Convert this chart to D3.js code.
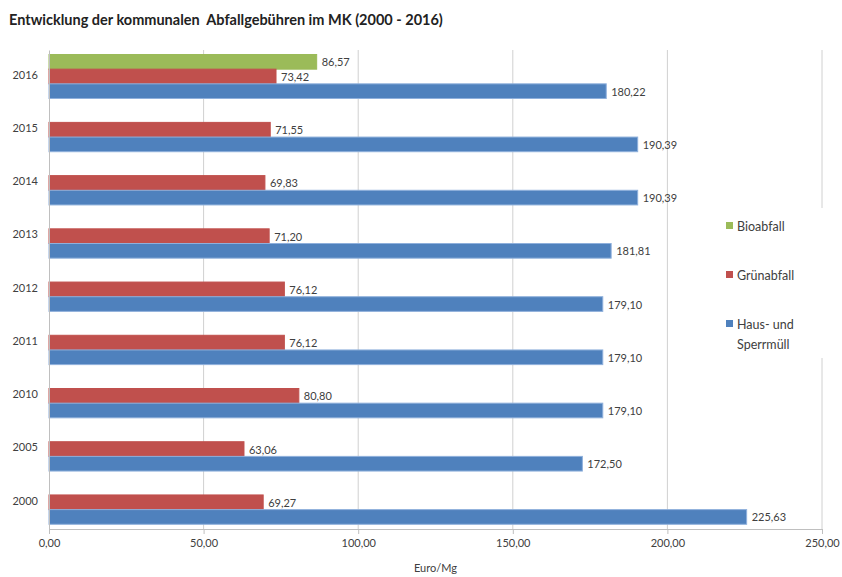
<!DOCTYPE html>
<html><head><meta charset="utf-8">
<script src="https://cdn.jsdelivr.net/npm/d3@7"></script>
<style>body{margin:0;background:#fff;}svg{display:block;font-family:Lato,"Open Sans",sans-serif;}</style>
</head><body><svg id="c" width="842" height="577"></svg>
<script>
const years = ["2016","2015","2014","2013","2012","2011","2010","2005","2000"];
const seriesNames = ["Bioabfall","Grünabfall","Haus- und Sperrmüll"];
const bioabfall = [86.57, null, null, null, null, null, null, null, null];
const gruenabfall = [73.42, 71.55, 69.83, 71.20, 76.12, 76.12, 80.80, 63.06, 69.27];
const hausSperrmuell = [180.22, 190.39, 190.39, 181.81, 179.10, 179.10, 179.10, 172.50, 225.63];
const xTicks = [0, 50, 100, 150, 200, 250];
const colors = ["#9BBB59", "#C0504D", "#4F81BD"];
const strokes = ["#9BBB59", "#C0504D", "#8FB0DC"];

const svg = d3.select("#c");
const values = [bioabfall, gruenabfall, hausSperrmuell];
const fmt = v => d3.format(".2f")(v).replace(".", ",");

const x = d3.scaleLinear().domain([0, 250]).range([49, 822]);
const y = d3.scaleBand().domain(years).range([50, 529]);
const yi = d3.scaleBand().domain(seriesNames).range([4.5, 48.5]);

svg.append("text").attr("x", 9).attr("y", 25).attr("font-size", 14.5).attr("font-weight", "bold")
  .attr("fill", "#222").style("white-space", "pre")
  .text("Entwicklung der kommunalen  Abfallgebühren im MK (2000 - 2016)");

// gridlines
svg.append("g").selectAll("line").data(xTicks.slice(1)).join("line")
  .attr("x1", d => x(d)).attr("x2", d => x(d)).attr("y1", 50).attr("y2", 529)
  .attr("stroke", "#d0d0d0").attr("stroke-width", 1);

// bars
const data = [];
years.forEach((yr, i) => seriesNames.forEach((s, j) => {
  const v = values[j][i];
  if (v != null) data.push({yr, s, j, v});
}));
const g = svg.append("g");
g.selectAll("rect").data(data).join("rect")
  .attr("x", x(0)).attr("y", d => y(d.yr) + yi(d.s))
  .attr("width", d => x(d.v) - x(0)).attr("height", yi.bandwidth())
  .attr("fill", d => colors[d.j]).attr("stroke", d => strokes[d.j]).attr("stroke-width", 1);
g.selectAll("text").data(data).join("text")
  .attr("x", d => x(d.v) + 5).attr("y", d => y(d.yr) + yi(d.s) + yi.bandwidth() / 2 + 4.5)
  .attr("font-size", 11).attr("fill", "#404040").text(d => fmt(d.v));

// axes
const xAxis = svg.append("g").attr("transform", "translate(0,529)")
  .call(d3.axisBottom(x).tickValues(xTicks).tickSize(5).tickFormat(fmt));
xAxis.select(".domain").attr("stroke", "#bfbfbf");
xAxis.selectAll(".tick line").attr("stroke", "#bfbfbf");
xAxis.selectAll(".tick text").attr("font-size", 11).attr("fill", "#404040").attr("dy", "0.9em")
  .attr("font-family", "Lato,'Open Sans',sans-serif");

const yAxis = svg.append("g").attr("transform", "translate(49,0)")
  .call(d3.axisLeft(y).tickSize(0).tickPadding(11));
yAxis.select(".domain").attr("stroke", "#bfbfbf");
yAxis.selectAll(".tick text").attr("font-size", 11).attr("fill", "#404040").attr("dy", "0.2em")
  .attr("font-family", "Lato,'Open Sans',sans-serif");

svg.append("text").attr("x", x(125)).attr("y", 572).attr("text-anchor", "middle")
  .attr("font-size", 11).attr("fill", "#404040").text("Euro/Mg");

// legend
const lg = svg.append("g");
lg.append("rect").attr("x", 712).attr("y", 208).attr("width", 125).attr("height", 150).attr("fill", "#fff");
const legendRows = [[seriesNames[0]], [seriesNames[1]], ["Haus- und", "Sperrmüll"]];
const legendY = [226, 275, 324];
legendRows.forEach((lines, j) => {
  lg.append("rect").attr("x", 726).attr("y", legendY[j] - 4).attr("width", 7).attr("height", 7).attr("fill", colors[j]);
  lines.forEach((t, k) => lg.append("text").attr("x", 737).attr("y", legendY[j] + 4.5 + k * 20)
    .attr("font-size", 12.5).attr("fill", "#404040").text(t));
});
</script></body></html>
